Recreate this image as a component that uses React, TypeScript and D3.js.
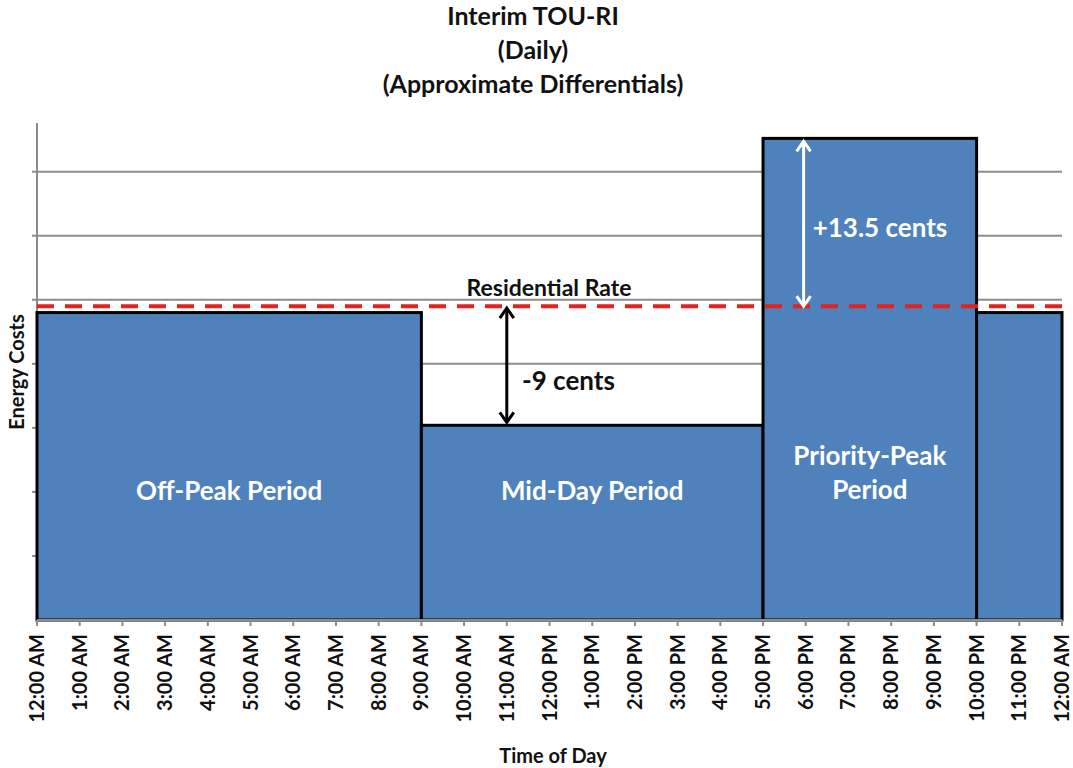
import React from "react";
import * as d3 from "d3";

const W = 1073;
const H = 768;

const hourLabels = [
  "12:00 AM", "1:00 AM", "2:00 AM", "3:00 AM", "4:00 AM", "5:00 AM", "6:00 AM", "7:00 AM",
  "8:00 AM", "9:00 AM", "10:00 AM", "11:00 AM", "12:00 PM", "1:00 PM", "2:00 PM", "3:00 PM",
  "4:00 PM", "5:00 PM", "6:00 PM", "7:00 PM", "8:00 PM", "9:00 PM", "10:00 PM", "11:00 PM", "12:00 AM",
];

// periods: start hour, end hour, energy cost (cents, approximate)
const periodStart = [0, 9, 17, 22];
const periodEnd = [9, 17, 22, 24];
const periodCost = [24.0, 15.2, 37.6, 24.0];
const periodLabel = [["Off-Peak Period"], ["Mid-Day Period"], ["Priority-Peak", "Period"], []];

const residentialRate = 24.5;
const yMax = 38.8;
const gridValues = [5, 10, 15, 20, 25, 30, 35];
const titleLines = ["Interim TOU-RI", "(Daily)", "(Approximate Differentials)"];

const FONT = "Lato, 'Open Sans', sans-serif";
const BLUE = "#4f81bd";

const App = () => {
  const x = d3.scaleLinear().domain([0, 24]).range([37, 1062]);
  const y = d3.scaleLinear().domain([0, yMax]).range([620, 123]);

  const arrowDown = (cx: number, cy: number, color: string) => (
    <path d={`M${cx - 7},${cy - 10} L${cx},${cy} L${cx + 7},${cy - 10}`} fill="none" stroke={color} strokeWidth={3} />
  );
  const arrowUp = (cx: number, cy: number, color: string) => (
    <path d={`M${cx - 7},${cy + 10} L${cx},${cy} L${cx + 7},${cy + 10}`} fill="none" stroke={color} strokeWidth={3} />
  );

  const midX = x(11);
  const peakX = x(17.95);

  return (
    <svg width={W} height={H} style={{ position: "absolute", left: 0, top: 0, background: "#fff" }} fontFamily={FONT}>
      {titleLines.map((t, i) => (
        <text key={i} x={533} y={25 + i * 34} textAnchor="middle" fontSize={25} fontWeight="bold" fill="#111">{t}</text>
      ))}

      {/* gridlines */}
      {gridValues.map((v) => (
        <g key={v}>
          <line x1={x(0)} x2={x(24)} y1={y(v)} y2={y(v)} stroke="#8c8c8c" strokeWidth={2} />
          <line x1={x(0) - 5} x2={x(0)} y1={y(v)} y2={y(v)} stroke="#8c8c8c" strokeWidth={2} />
        </g>
      ))}

      {/* y axis */}
      <line x1={x(0)} x2={x(0)} y1={y(yMax)} y2={y(0)} stroke="#8c8c8c" strokeWidth={2} />

      {/* bars */}
      {periodStart.map((s, i) => (
        <rect key={i} x={x(s)} y={y(periodCost[i])} width={x(periodEnd[i]) - x(s)} height={y(0) - y(periodCost[i])}
          fill={BLUE} stroke="#000" strokeWidth={3} />
      ))}

      {/* residential rate */}
      <line x1={x(0)} x2={x(24)} y1={y(residentialRate)} y2={y(residentialRate)} stroke="#e3221b" strokeWidth={4} strokeDasharray="17,11" />
      <text x={549} y={296} textAnchor="middle" fontSize={23} fontWeight="bold" fill="#111">Residential Rate</text>

      {/* x axis */}
      <line x1={x(0)} x2={x(24)} y1={y(0)} y2={y(0)} stroke="#8c8c8c" strokeWidth={2} />
      {hourLabels.map((lab, i) => (
        <g key={i}>
          <line x1={x(i)} x2={x(i)} y1={y(0)} y2={y(0) + 6} stroke="#8c8c8c" strokeWidth={2} />
          <text transform={`translate(${x(i) + 7},${634}) rotate(-90)`} textAnchor="end" fontSize={20} fontWeight="bold" fill="#111">{lab}</text>
        </g>
      ))}

      {/* period labels */}
      {periodLabel.map((lines, i) => {
        const cx = (x(periodStart[i]) + x(periodEnd[i])) / 2;
        const base = lines.length > 1 ? 465 : 500;
        return lines.map((t, j) => (
          <text key={`${i}-${j}`} x={cx} y={base + j * 34} textAnchor="middle" fontSize={26} fontWeight="bold" fill="#fff">{t}</text>
        ));
      })}

      {/* -9 cents arrow */}
      <line x1={midX} x2={midX} y1={y(residentialRate) + 2} y2={y(periodCost[1]) - 3} stroke="#000" strokeWidth={3} />
      {arrowUp(midX, y(residentialRate) + 2, "#000")}
      {arrowDown(midX, y(periodCost[1]) - 3, "#000")}
      <text x={522} y={390} fontSize={26} fontWeight="bold" fill="#111">-9 cents</text>

      {/* +13.5 cents arrow */}
      <line x1={peakX} x2={peakX} y1={y(periodCost[2]) + 3} y2={y(residentialRate)} stroke="#fff" strokeWidth={3} />
      {arrowUp(peakX, y(periodCost[2]) + 3, "#fff")}
      {arrowDown(peakX, y(residentialRate), "#fff")}
      <text x={880} y={237} textAnchor="middle" fontSize={26} fontWeight="bold" fill="#fff">+13.5 cents</text>

      {/* axis titles */}
      <text transform={`translate(24,372) rotate(-90)`} textAnchor="middle" fontSize={20} fontWeight="bold" fill="#111">Energy Costs</text>
      <text x={553} y={763} textAnchor="middle" fontSize={20} fontWeight="bold" fill="#111">Time of Day</text>
    </svg>
  );
};

export default App;
